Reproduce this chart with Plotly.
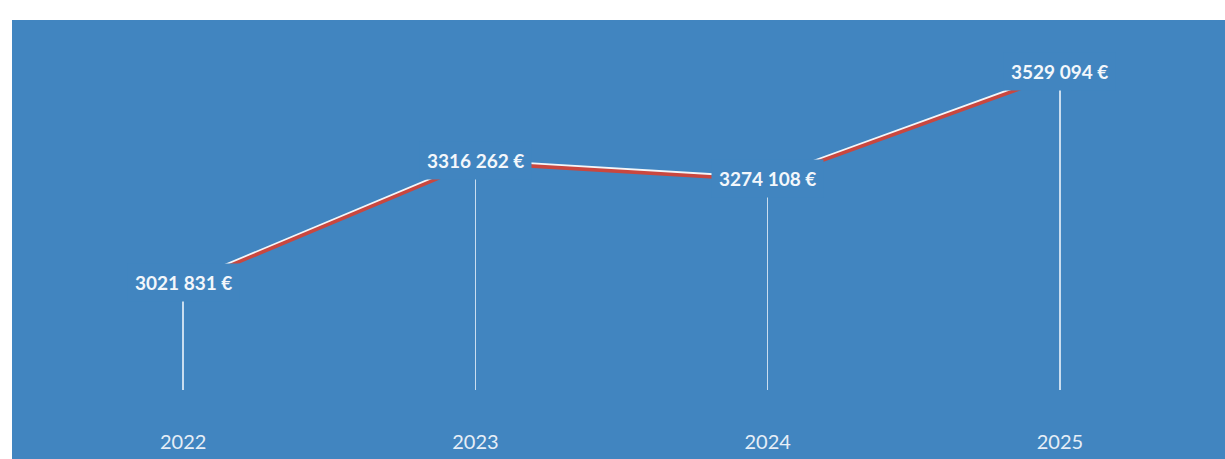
import plotly.graph_objects as go

years = ["2022", "2023", "2024", "2025"]
revenue = [3021831, 3316262, 3274108, 3529094]
labels = ["3021 831 €", "3316 262 €", "3274 108 €", "3529 094 €"]

BLUE = "#4185c0"
W, H = 1225, 459
M_L, M_R, M_T, M_B = 37, 19, 30, 69

y_lo, y_hi = 2764600, 3630000
px_units = (y_hi - y_lo) / (H - M_T - M_B)
shade_shift = 2.2 * px_units  # lower red edge of the ribbon, in value units

fig = go.Figure()

# thin drop lines from the bottom of the plot up to each value
fig.add_trace(go.Bar(
    x=years, y=revenue, width=0.005,
    marker=dict(color="rgba(235,242,250,0.8)", line=dict(width=0)),
    hoverinfo="skip", showlegend=False,
))

# red underside of the ribbon, drawn on an overlay axis nudged downward
fig.add_trace(go.Scatter(
    x=years, y=revenue, mode="lines", yaxis="y2",
    line=dict(color="#c9473f", width=3.6),
    hoverinfo="skip", showlegend=False,
))
# white top of the ribbon
fig.add_trace(go.Scatter(
    x=years, y=revenue, mode="lines",
    line=dict(color="#f4f6f8", width=3),
    showlegend=False,
))

# value labels sit on the points; their blue box hides the line ends
for i, (v, txt) in enumerate(zip(revenue, labels)):
    fig.add_annotation(
        x=i, y=v, text=f"<b>{txt}</b>", showarrow=False,
        font=dict(family="Lato", size=19, color="#f3f7fb"),
        bgcolor=BLUE, borderpad=7, xanchor="center", yanchor="middle",
    )

# blue panel behind the chart
fig.add_shape(
    type="rect", xref="paper", yref="paper", layer="below",
    x0=-25 / (W - M_L - M_R), x1=1.05,
    y0=-0.3, y1=1 + 10 / (H - M_T - M_B),
    fillcolor=BLUE, line=dict(width=0),
)

fig.update_layout(
    width=W, height=H,
    margin=dict(l=M_L, r=M_R, t=M_T, b=M_B, pad=0),
    paper_bgcolor="white", plot_bgcolor=BLUE,
    bargap=0,
    xaxis=dict(
        type="category", range=[-0.5, 3.5], showgrid=False, zeroline=False,
        showline=False, ticks="", ticklabelstandoff=38, automargin=False,
        tickfont=dict(family="Lato", size=20, color="#e6eef7"),
    ),
    yaxis=dict(range=[y_lo, y_hi], visible=False, fixedrange=True,
               automargin=False),
    yaxis2=dict(range=[y_lo + shade_shift, y_hi + shade_shift],
                overlaying="y", visible=False),
)

fig.write_html("out.html")
